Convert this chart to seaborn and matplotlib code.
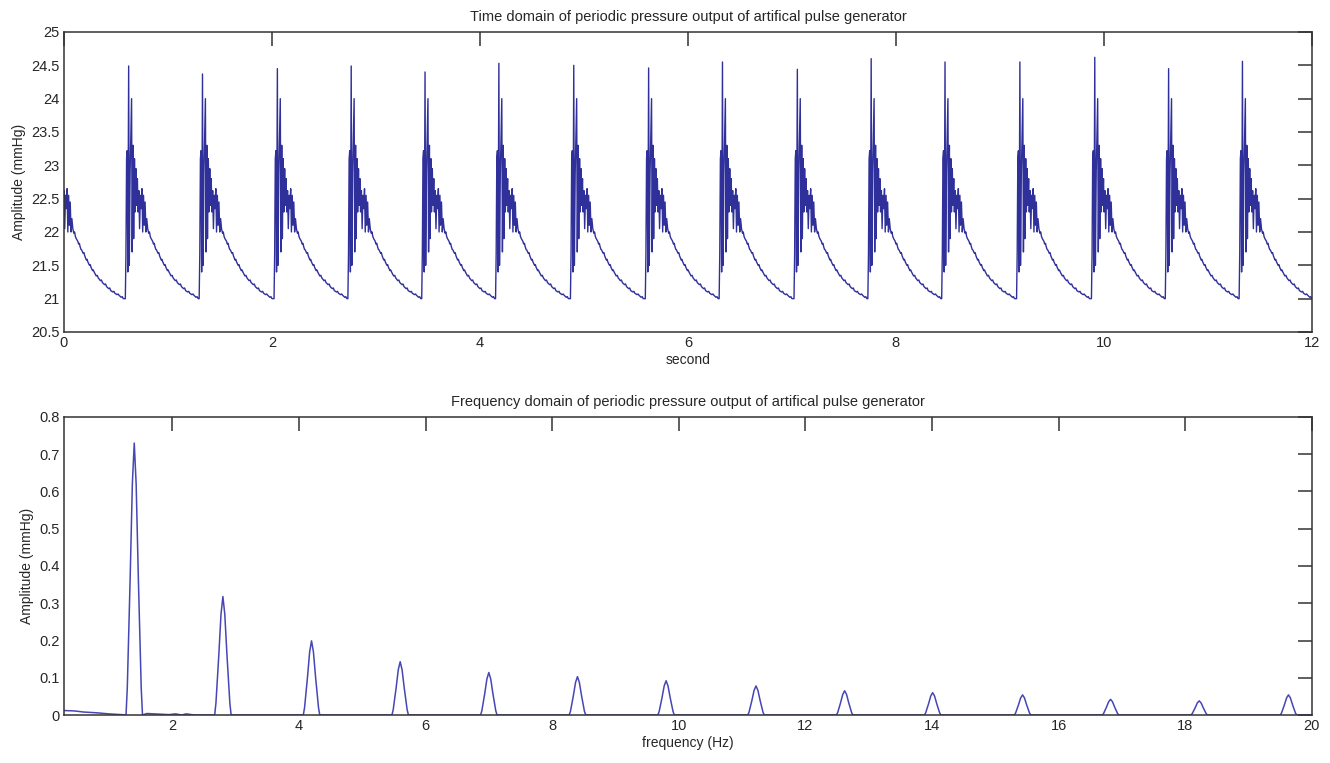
#!/usr/bin/env python3

import numpy as np
import pandas as pd
import matplotlib
matplotlib.use('Agg')
import matplotlib.pyplot as plt
from matplotlib.ticker import FuncFormatter
import seaborn as sns

SET_DPI = 100
FIGSIZE = (13.3, 7.63)
TOP_COLOUR = '#30309a'
BOT_COLOUR = '#4646b4'

# pulse onsets (s) and height of the tallest spike of each pulse (mmHg)
PULSE_ONSETS = [-0.13, 0.59, 1.30, 2.02, 2.73, 3.44, 4.15, 4.87, 5.59, 6.30,
                7.02, 7.73, 8.44, 9.16, 9.88, 10.59, 11.30]
PULSE_PEAKS = [24.47, 24.49, 24.37, 24.45, 24.49, 24.40, 24.53, 24.50, 24.46,
               24.55, 24.44, 24.60, 24.55, 24.55, 24.62, 24.45, 24.56]

# one pulse: offset from onset (s) and pressure (mmHg)
PULSE_T = [0.000, 0.006, 0.012, 0.018, 0.024, 0.032, 0.038, 0.046, 0.060,
           0.066, 0.074, 0.080, 0.088, 0.094, 0.102, 0.108, 0.116, 0.122,
           0.130, 0.137, 0.145, 0.152, 0.160, 0.167, 0.175, 0.182, 0.190,
           0.198, 0.206, 0.215, 0.225, 0.232, 0.240, 0.248, 0.255, 0.263,
           0.270, 0.278, 0.285, 0.293, 0.300, 0.315, 0.322, 0.330, 0.345,
           0.352, 0.360, 0.375, 0.383, 0.390, 0.405, 0.412, 0.420, 0.440,
           0.450, 0.460, 0.480, 0.490, 0.500, 0.520, 0.530, 0.540, 0.560,
           0.570, 0.580, 0.600, 0.610, 0.620, 0.640, 0.650, 0.660, 0.680,
           0.690, 0.700]
PULSE_V = [21.00, 21.68, 23.10, 23.22, 21.40, 24.47, 21.50, 22.90, 24.00,
           21.70, 23.30, 21.90, 23.10, 22.30, 22.95, 22.40, 22.80, 22.30,
           22.62, 22.05, 22.55, 22.35, 22.65, 22.00, 22.55, 22.10, 22.45,
           22.00, 22.20, 22.05, 21.98, 22.00, 21.93, 21.90, 21.88, 21.86,
           21.82, 21.83, 21.78, 21.74, 21.73, 21.68, 21.69, 21.64, 21.58,
           21.59, 21.55, 21.50, 21.51, 21.47, 21.42, 21.43, 21.40, 21.34,
           21.35, 21.31, 21.27, 21.28, 21.24, 21.21, 21.22, 21.18, 21.15,
           21.16, 21.12, 21.10, 21.11, 21.08, 21.06, 21.07, 21.05, 21.02,
           21.03, 21.00]
PEAK_IDX = 5

# spectrum: harmonic positions (Hz) and amplitudes (mmHg)
HARM_F = [1.40, 2.80, 4.20, 5.60, 7.00, 8.40, 9.80, 11.22, 12.62, 14.01,
          15.43, 16.82, 18.22, 19.63]
HARM_A = [0.730, 0.318, 0.199, 0.143, 0.114, 0.103, 0.092, 0.078, 0.065,
          0.060, 0.054, 0.042, 0.038, 0.054]
# shape of one harmonic lobe: offset (Hz) and fraction of its amplitude
LOBE_DF = [-0.13, -0.11, -0.065, -0.03, 0.0, 0.03, 0.065, 0.11, 0.13]
LOBE_FR = [0.0, 0.10, 0.50, 0.85, 1.0, 0.85, 0.50, 0.10, 0.0]
# floor of the spectrum outside the lobes
FLOOR_F = [0.29, 0.45, 0.60, 0.80, 1.00, 1.20, 1.60, 1.85, 1.95, 2.05, 2.15,
           2.22, 2.35, 20.0]
FLOOR_A = [0.012, 0.011, 0.008, 0.006, 0.003, 0.001, 0.004, 0.002, 0.001,
           0.003, 0.000, 0.003, 0.000, 0.000]


def time_frame():
    t, v = [], []
    for onset, peak in zip(PULSE_ONSETS, PULSE_PEAKS):
        vals = list(PULSE_V)
        vals[PEAK_IDX] = peak
        t += [onset + dt for dt in PULSE_T]
        v += vals
    return pd.DataFrame({'second': t, 'amp': v})


def freq_frame():
    f, a = list(FLOOR_F), list(FLOOR_A)
    for fc, ac in zip(HARM_F, HARM_A):
        f += [fc + d for d in LOBE_DF]
        a += [ac * r for r in LOBE_FR]
    df = pd.DataFrame({'freq': f, 'amp': a})
    return df.sort_values('freq', kind='stable')


def matlab_axes(ax):
    for sp in ax.spines.values():
        sp.set_visible(True)
        sp.set_color('#333333')
        sp.set_linewidth(1.1)
    ax.tick_params(direction='in', length=10, width=1.1, color='#333333',
                   top=True, right=True, labelsize=10.5, pad=3)
    ax.yaxis.set_major_formatter(FuncFormatter(lambda x, p: f'{x:g}'))
    ax.xaxis.set_major_formatter(FuncFormatter(lambda x, p: f'{x:g}'))


sns.set_style('white')
plt.rcParams['font.family'] = ['Liberation Sans', 'DejaVu Sans']

fig = plt.figure(figsize=FIGSIZE, dpi=SET_DPI)
ax1 = fig.add_axes([0.0481, 0.5649, 0.9383, 0.3932])
ax2 = fig.add_axes([0.0481, 0.0629, 0.9383, 0.3906])

sns.lineplot(data=time_frame(), x='second', y='amp', ax=ax1,
             estimator=None, sort=False, color=TOP_COLOUR, linewidth=1.0)
ax1.set_xlim(0, 12)
ax1.set_ylim(20.5, 25)
ax1.set_xticks(np.arange(0, 13, 2))
ax1.set_yticks(np.arange(20.5, 25.01, 0.5))
ax1.set_xlabel('second', fontsize=10, labelpad=2)
ax1.set_ylabel('Amplitude (mmHg)', fontsize=10, labelpad=4)
ax1.set_title('Time domain of periodic pressure output of artifical pulse generator',
              fontsize=10.5, pad=8)
matlab_axes(ax1)

sns.lineplot(data=freq_frame(), x='freq', y='amp', ax=ax2,
             estimator=None, sort=False, color=BOT_COLOUR, linewidth=1.1)
ax2.set_xlim(0.29, 20)
ax2.set_ylim(0, 0.8)
ax2.set_xticks(np.arange(2, 21, 2))
ax2.set_yticks(np.arange(0, 0.81, 0.1))
ax2.set_xlabel('frequency (Hz)', fontsize=10, labelpad=2)
ax2.set_ylabel('Amplitude (mmHg)', fontsize=10, labelpad=4)
ax2.set_title('Frequency domain of periodic pressure output of artifical pulse generator',
              fontsize=10.5, pad=8)
matlab_axes(ax2)

plt.savefig('out.png', dpi=SET_DPI)
plt.close('all')
